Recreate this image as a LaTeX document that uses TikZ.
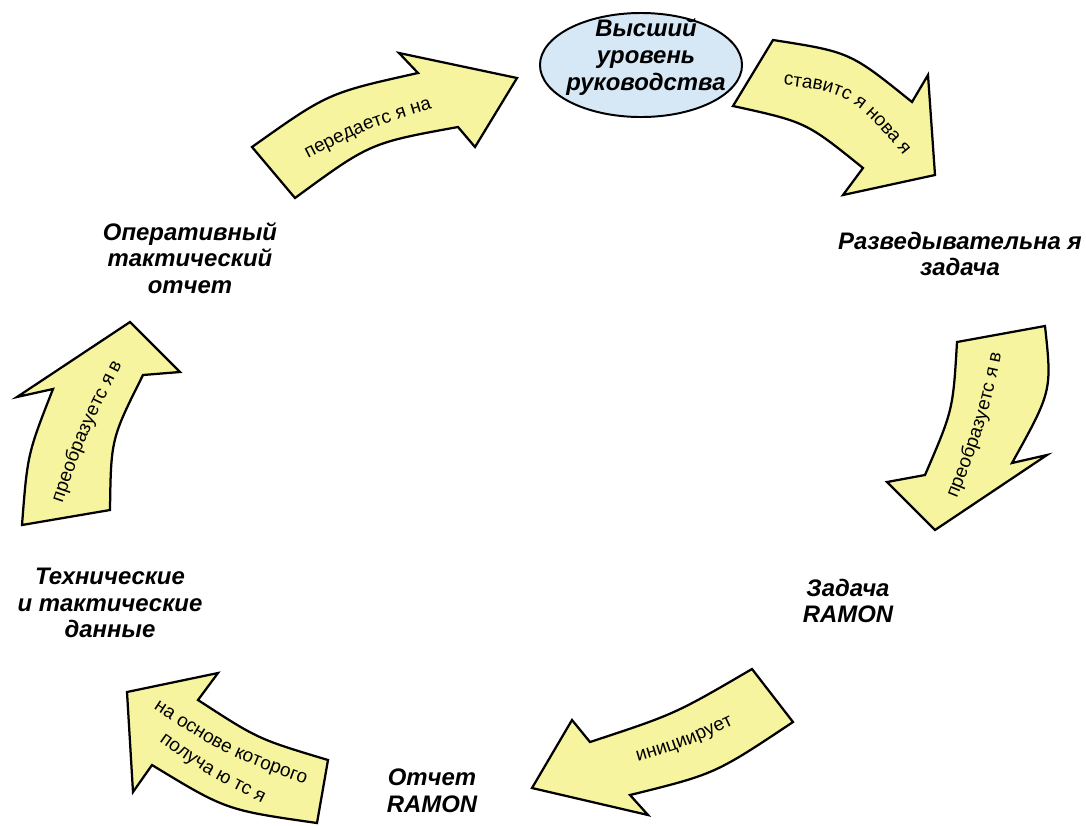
\documentclass[tikz,border=0pt]{standalone}
\usepackage{fontspec}
\setmainfont{Liberation Sans}
\usepackage{xcolor}
\usetikzlibrary{shapes.geometric, decorations.text}
\newcommand{\arrowfont}{\fontsize{13.5}{15}\selectfont}
\newcommand{\labelfont}{\fontsize{17}{19}\selectfont\bfseries\itshape}
\definecolor{giallo}{RGB}{247,244,160}
\definecolor{azzurro}{RGB}{214,231,245}

\begin{document}
\begin{tikzpicture}[x=0.025cm, y=-0.025cm,
    bigarrow/.style={draw=black, fill=giallo, line width=1.6pt, line join=miter},
    lbl/.style={font=\labelfont, align=center, inner sep=0pt},
    arrowtext/.style={decorate, decoration={text along path, text align=center, text={|\arrowfont|#1}}}]
    \useasboundingbox (0,0) rectangle (1086,825);
    % Vertice
    \node[ellipse, draw, line width=1.4pt, fill=azzurro, minimum width=5.05cm, minimum height=2.6cm, inner sep=0pt] (rukov) at (641,65) {};
    \node[lbl] (rukovtxt) at (646,57) {Высший\\уровень\\руководства};
    % Etichette
    \node[lbl] (razv) at (960,254) {Разведывательна я\\задача};
    \node[lbl] (zadacha) at (848,601) {Задача\\RAMON};
    \node[lbl] (otchet) at (432,791) {Отчет\\RAMON};
    \node[lbl] (dannye) at (110,603) {Технические\\и тактические\\данные};
    \node[lbl] (oper) at (190,258) {Оперативный\\тактический\\отчет};
    % Frecce
    \draw[bigarrow] (252,147) .. controls (328,93) .. (418,73) -- (399,53) -- (517,78) -- (475,147) -- (458,127) .. controls (370,143) .. (295,198) -- cycle;
    \draw[bigarrow] (773,40) .. controls (850,52) .. (912,102) -- (928,75) -- (935,175) -- (843,195) -- (863,168) .. controls (806,122) .. (733,106) -- cycle;
    \draw[bigarrow] (957,342) -- (1045,326) .. controls (1052,391) .. (1012,463) -- (1047,455) -- (935,530) -- (887,482) -- (925,475) .. controls (953,410) .. (957,342) -- cycle;
    \draw[bigarrow] (752,669) .. controls (675,714) .. (590,742) -- (572,720) -- (532,788) -- (648,815) -- (630,795) .. controls (715,774) .. (793,722) -- cycle;
    \draw[bigarrow] (127,692) -- (218,673) -- (198,700) .. controls (258,739) .. (328,760) -- (317,823) .. controls (226,810) .. (152,765) -- (133,792) -- cycle;
    \draw[bigarrow] (22,525) -- (110,510) .. controls (111,439) .. (143,375) -- (180,372) -- (130,322) -- (17,397) -- (53,389) .. controls (27.5,454) .. (22,525) -- cycle;
    % Testi sulle frecce
    \path[arrowtext={передаетс я на}] (290,168) .. controls (367,128) .. (452,103);
    \path[arrowtext={ставитс я нова я}] (765,83) .. controls (851,92) .. (915,170);
    \path[arrowtext={преобразуетс я в}] (940,540) .. controls (988,422) .. (1010,310);
    \path[arrowtext={инициирует}] (610,770) .. controls (685,748) .. (760,712);
    \path[arrowtext={на основе которого}] (140,700) .. controls (222,754) .. (320,790);
    \path[arrowtext={получа ю тс я}] (150,735) .. controls (208,776) .. (272,808);
    \path[arrowtext={преобразуетс я в}] (50,540) .. controls (87,431) .. (140,330);
\end{tikzpicture}
\end{document}
